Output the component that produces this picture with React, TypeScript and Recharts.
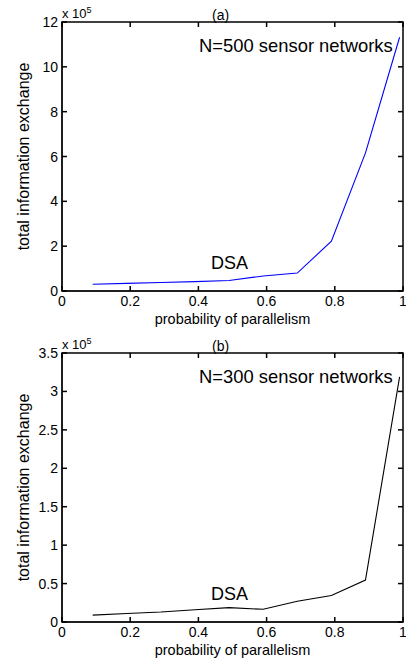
import React from "react";
import { LineChart, Line, XAxis, YAxis, ReferenceArea } from "recharts";

// probability of parallelism (x) and total information exchange (in units of 10^5)
const prob = [0.09, 0.19, 0.29, 0.39, 0.49, 0.59, 0.69, 0.79, 0.89, 0.99];
const exchangeN500 = [0.3, 0.34, 0.38, 0.42, 0.47, 0.67, 0.8, 2.22, 6.16, 11.32];
const exchangeN300 = [0.09, 0.11, 0.13, 0.16, 0.187, 0.165, 0.27, 0.345, 0.545, 3.19];

const xTicks = [0, 0.2, 0.4, 0.6, 0.8, 1];
const yTicksA = [0, 2, 4, 6, 8, 10, 12];
const yTicksB = [0, 0.5, 1, 1.5, 2, 2.5, 3, 3.5];

const FONT = '"Liberation Sans", Arial, Helvetica, sans-serif';
const W = 406;
const H = 331;
const M = { top: 22, right: 3, left: 22, bottom: 10 };
const Y_AXIS_W = 40;
const X_AXIS_H = 30;
// plot box edges inside each chart
const PLOT_TOP = M.top;
const PLOT_BOTTOM = H - M.bottom - X_AXIS_H;
const PLOT_LEFT = M.left + Y_AXIS_W;
const PLOT_RIGHT = W - M.right;
const TICK = 5;
const EDGE = 1.5;

const dataA = prob.map((p, i) => ({ p, v: exchangeN500[i] }));
const dataB = prob.map((p, i) => ({ p, v: exchangeN300[i] }));

// MATLAB-like ticks: label outside, tick marks pointing inward on both sides
const XTick = ({ payload }: any) => {
  const c = payload.coordinate;
  return (
    <g>
      <line x1={c} x2={c} y1={PLOT_BOTTOM} y2={PLOT_BOTTOM - TICK} stroke="#000" strokeWidth={EDGE} />
      <line x1={c} x2={c} y1={PLOT_TOP} y2={PLOT_TOP + TICK} stroke="#000" strokeWidth={EDGE} />
      <text x={c} y={PLOT_BOTTOM + 15} textAnchor="middle" fontSize={14} fontFamily={FONT} fill="#000">
        {payload.value}
      </text>
    </g>
  );
};

const YTick = ({ payload }: any) => {
  const c = payload.coordinate;
  return (
    <g>
      <line x1={PLOT_LEFT} x2={PLOT_LEFT + TICK} y1={c} y2={c} stroke="#000" strokeWidth={EDGE} />
      <line x1={PLOT_RIGHT} x2={PLOT_RIGHT - TICK} y1={c} y2={c} stroke="#000" strokeWidth={EDGE} />
      <text x={PLOT_LEFT - 4} y={c + 5} textAnchor="end" fontSize={14} fontFamily={FONT} fill="#000">
        {payload.value}
      </text>
    </g>
  );
};

interface PanelProps {
  data: { p: number; v: number }[];
  yTicks: number[];
  color: string;
  title: string;
  note: string;
}

function Overlay({ left, baseline, size, children }: any) {
  return (
    <div
      style={{
        position: "absolute",
        left,
        top: baseline - size * 0.8465,
        fontSize: size,
        lineHeight: 1,
        fontFamily: FONT,
        color: "#000",
        whiteSpace: "nowrap",
      }}
    >
      {children}
    </div>
  );
}

function Panel({ data, yTicks, color, title, note }: PanelProps) {
  const yMax = yTicks[yTicks.length - 1];
  return (
    <div style={{ position: "relative", width: W, height: H }}>
      <LineChart width={W} height={H} data={data} margin={M}>
        <XAxis
          dataKey="p"
          type="number"
          domain={[0, 1]}
          ticks={xTicks}
          height={X_AXIS_H}
          stroke="#000"
          tick={<XTick />}
          tickLine={false}
          interval={0}
          label={{
            value: "probability of parallelism",
            position: "insideBottom",
            offset: -3,
            style: { fill: "#000", fontSize: 14.5, fontFamily: FONT },
          }}
        />
        <YAxis
          type="number"
          domain={[0, yMax]}
          ticks={yTicks}
          width={Y_AXIS_W}
          stroke="#000"
          tick={<YTick />}
          tickLine={false}
          interval={0}
          label={{
            value: "total information exchange",
            angle: -90,
            position: "insideLeft",
            offset: 1,
            style: { fill: "#000", fontSize: 16, fontFamily: FONT, textAnchor: "middle" },
          }}
        />
        <Line
          type="linear"
          dataKey="v"
          stroke={color}
          strokeWidth={1.1}
          dot={false}
          isAnimationActive={false}
        />
        {/* axes box */}
        <ReferenceArea
          x1={0}
          x2={1}
          y1={0}
          y2={yMax}
          fill="none"
          fillOpacity={0}
          stroke="#000"
          strokeWidth={EDGE}
        />
      </LineChart>
      {/* exponent and panel title */}
      <Overlay left={62} baseline={17} size={13}>
        x 10<sup style={{ fontSize: 9, verticalAlign: "5px" }}>5</sup>
      </Overlay>
      <Overlay left={212} baseline={20} size={14}>
        {title}
      </Overlay>
      {/* annotations */}
      <Overlay left={199} baseline={53} size={18.4}>
        {note}
      </Overlay>
      <Overlay left={211} baseline={269} size={18}>
        DSA
      </Overlay>
    </div>
  );
}

export default function App() {
  return (
    <div
      style={{
        position: "absolute",
        left: 0,
        top: 0,
        width: W,
        height: 662,
        background: "#fff",
        overflow: "hidden",
      }}
    >
      <Panel data={dataA} yTicks={yTicksA} color="#0000ff" title="(a)" note="N=500 sensor networks" />
      <Panel data={dataB} yTicks={yTicksB} color="#000000" title="(b)" note="N=300 sensor networks" />
    </div>
  );
}
